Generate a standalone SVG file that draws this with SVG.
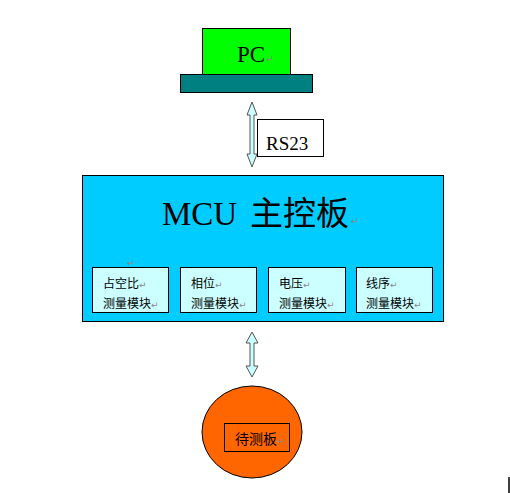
<svg xmlns="http://www.w3.org/2000/svg" width="510" height="493" viewBox="0 0 510 493">
<style>
.b{stroke:#000;stroke-width:1}
.serif{font-family:"Liberation Serif","Noto Sans CJK SC",serif;fill:#000}
.cjk{font-family:"Noto Sans CJK SC","Liberation Sans",sans-serif;fill:#000}
.ret{font-family:"DejaVu Sans",sans-serif;fill:#888;font-size:9px}
.arr{fill:#ccffff;stroke:#555;stroke-width:1}
.mod{fill:#ccffff;stroke:#000;stroke-width:1}
</style>
<rect width="510" height="493" fill="#fff"/>
<g id="pc">
<rect x="180.5" y="74.5" width="132" height="18" fill="#008080" class="b"/>
<rect x="202.5" y="28.5" width="88" height="46" fill="#00ff00" class="b"/>
<text x="237" y="62" class="serif" font-size="23">PC</text>
<text x="266" y="62" class="ret">↵</text>
</g>
<g id="rs23">
<rect x="257.5" y="119.5" width="66" height="37" fill="#fff" class="b"/>
<text x="266" y="150" class="serif" font-size="19">RS23</text>
</g>
<g id="mcu">
<rect x="82.5" y="175.5" width="361" height="146" fill="#00ccff" class="b"/>
<text x="162" y="225" class="serif" font-size="33">MCU <tspan x="250" class="cjk" font-size="33">主控板</tspan></text>
<text x="351" y="224" class="ret">↵</text>
<text x="127" y="266" class="ret">↵</text>
</g>
<g id="mod1">
<rect x="92.5" y="267.5" width="76" height="45" class="mod"/>
<text x="103" y="288" class="cjk" font-size="12">占空比</text>
<text x="139" y="288" class="ret">↵</text>
<text x="103" y="308" class="cjk" font-size="12">测量模块</text>
<text x="151" y="308" class="ret">↵</text>
</g>
<g id="mod2">
<rect x="180.5" y="267.5" width="76" height="45" class="mod"/>
<text x="191" y="288" class="cjk" font-size="12">相位</text>
<text x="215" y="288" class="ret">↵</text>
<text x="191" y="308" class="cjk" font-size="12">测量模块</text>
<text x="239" y="308" class="ret">↵</text>
</g>
<g id="mod3">
<rect x="268.5" y="267.5" width="77" height="45" class="mod"/>
<text x="279" y="288" class="cjk" font-size="12">电压</text>
<text x="303" y="288" class="ret">↵</text>
<text x="279" y="308" class="cjk" font-size="12">测量模块</text>
<text x="327" y="308" class="ret">↵</text>
</g>
<g id="mod4">
<rect x="356.5" y="267.5" width="76" height="45" class="mod"/>
<text x="366" y="288" class="cjk" font-size="12">线序</text>
<text x="390" y="288" class="ret">↵</text>
<text x="366" y="308" class="cjk" font-size="12">测量模块</text>
<text x="414" y="308" class="ret">↵</text>
</g>
<g id="board">
<ellipse cx="252" cy="432" rx="50" ry="46" fill="#ff6600" stroke="#000" stroke-width="1"/>
<rect x="224.5" y="423.5" width="65" height="28" fill="none" class="b"/>
<text x="235" y="444" class="cjk" font-size="14">待测板</text>
<text x="277" y="444" class="ret">↵</text>
</g>
<g id="connectors">
<path class="arr" d="M252,102 L257,115 L254,115 L254,154 L257,154 L252,167 L247,154 L250,154 L250,115 L247,115 Z"/>
<path class="arr" d="M252,332 L258,343 L254,343 L254,366 L258,366 L252,377 L246,366 L250,366 L250,343 L246,343 Z"/>
</g>
<line x1="509" y1="477" x2="509" y2="493" stroke="#000" stroke-width="1.5"/>
</svg>
